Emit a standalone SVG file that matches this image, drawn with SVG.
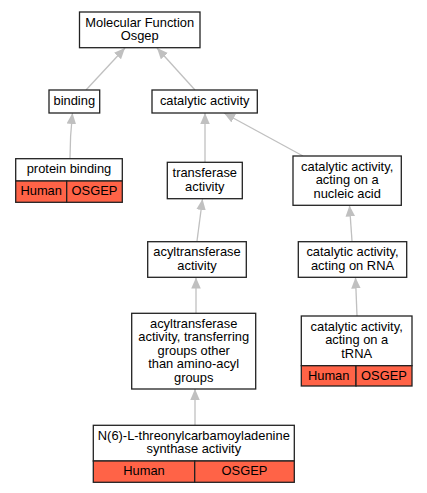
<svg xmlns="http://www.w3.org/2000/svg" width="427" height="493" viewBox="0 0 427 493">
<style>
.box{fill:#fff;stroke:#222;stroke-width:1.3}
.cell{fill:#ff6347;stroke:#222;stroke-width:1.3}
text{font-family:"Liberation Sans",Arial,sans-serif;font-size:12.9px;fill:#000;text-anchor:middle}
.edge{fill:none;stroke:#c0c0c0;stroke-width:1.3}
</style>
<defs>
<marker id="ah" markerUnits="userSpaceOnUse" markerWidth="12" markerHeight="10" refX="11" refY="4.75" orient="auto" viewBox="0 0 12 9.5">
<path d="M0,0 L11,4.75 L0,9.5 z" fill="#c0c0c0"/>
</marker>
</defs>
<g id="edges">
<path class="edge" d="M86,90 L125,48" marker-end="url(#ah)"/>
<path class="edge" d="M195,90 L157,48" marker-end="url(#ah)"/>
<path class="edge" d="M70,158 C70,140 71,127 72.5,113" marker-end="url(#ah)"/>
<path class="edge" d="M205,162 L205,113" marker-end="url(#ah)"/>
<path class="edge" d="M303,156 L224,113" marker-end="url(#ah)"/>
<path class="edge" d="M197,241 L202.5,199" marker-end="url(#ah)"/>
<path class="edge" d="M352,241 L349.5,205.5" marker-end="url(#ah)"/>
<path class="edge" d="M196,313 L196,277.5" marker-end="url(#ah)"/>
<path class="edge" d="M357,316 L355.5,277.5" marker-end="url(#ah)"/>
<path class="edge" d="M195,425 L195,389" marker-end="url(#ah)"/>
</g>
<g id="mf">
<rect class="box" x="79.5" y="12" width="120.5" height="35.7"/>
<text x="139.7" y="26.6">Molecular Function</text>
<text x="139.7" y="40.1">Osgep</text>
</g>
<g id="binding">
<rect class="box" x="49" y="90" width="50.7" height="23"/>
<text x="74.3" y="105">binding</text>
</g>
<g id="catalytic">
<rect class="box" x="152" y="90" width="105.3" height="23"/>
<text x="204.7" y="105">catalytic activity</text>
</g>
<g id="protein-binding">
<rect class="box" x="15.7" y="158.7" width="106.6" height="22.3"/>
<text x="69" y="173.4">protein binding</text>
<rect class="cell" x="15.7" y="181" width="51" height="21.3"/>
<rect class="cell" x="66.7" y="181" width="55.6" height="21.3"/>
<text x="41.2" y="195.2">Human</text>
<text x="94.5" y="195.2">OSGEP</text>
</g>
<g id="transferase">
<rect class="box" x="167.3" y="162.3" width="75" height="36.4"/>
<text x="204.8" y="177.2">transferase</text>
<text x="204.8" y="190.7">activity</text>
</g>
<g id="nucleic">
<rect class="box" x="293" y="156" width="108.3" height="49.3"/>
<text x="347.2" y="170.7">catalytic activity,</text>
<text x="347.2" y="184.2">acting on a</text>
<text x="347.2" y="197.7">nucleic acid</text>
</g>
<g id="acyl">
<rect class="box" x="147.7" y="241.7" width="98.6" height="35.6"/>
<text x="197" y="256.2">acyltransferase</text>
<text x="197" y="269.7">activity</text>
</g>
<g id="rna">
<rect class="box" x="298.3" y="241.7" width="108.4" height="35.6"/>
<text x="352.5" y="256.2">catalytic activity,</text>
<text x="352.5" y="269.7">acting on RNA</text>
</g>
<g id="transferring">
<rect class="box" x="131.7" y="313.3" width="124" height="75.7"/>
<text x="193.7" y="327.7">acyltransferase</text>
<text x="193.7" y="341.2">activity, transferring</text>
<text x="193.7" y="354.7">groups other</text>
<text x="193.7" y="368.2">than amino-acyl</text>
<text x="193.7" y="381.7">groups</text>
</g>
<g id="trna">
<rect class="box" x="301.3" y="316" width="110.7" height="49.7"/>
<text x="356.7" y="330.8">catalytic activity,</text>
<text x="356.7" y="344.3">acting on a</text>
<text x="356.7" y="357.8">tRNA</text>
<rect class="cell" x="301.3" y="365.7" width="54.7" height="20.3"/>
<rect class="cell" x="356" y="365.7" width="56" height="20.3"/>
<text x="328.7" y="379.5">Human</text>
<text x="384" y="379.5">OSGEP</text>
</g>
<g id="n6">
<rect class="box" x="93.3" y="425.3" width="201" height="35.7"/>
<text x="193.8" y="439.9">N(6)-L-threonylcarbamoyladenine</text>
<text x="193.8" y="453.4">synthase activity</text>
<rect class="cell" x="93.3" y="461" width="101.4" height="21.3"/>
<rect class="cell" x="194.7" y="461" width="99.6" height="21.3"/>
<text x="144" y="475.3">Human</text>
<text x="244.5" y="475.3">OSGEP</text>
</g>
</svg>
